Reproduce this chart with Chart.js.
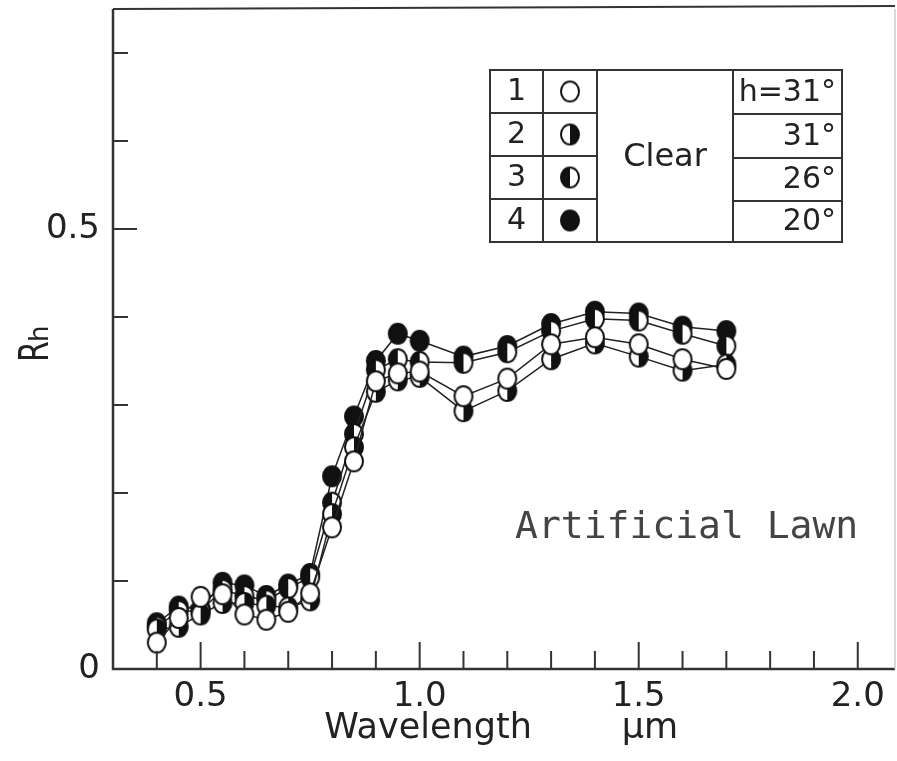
<!DOCTYPE html>
<html>
<head>
<meta charset="utf-8">
<title>Artificial Lawn - Rh</title>
<script src="https://cdn.jsdelivr.net/npm/chart.js@4.4.1/dist/chart.umd.min.js"></script>
<style>
  html, body { margin: 0; padding: 0; background: #fff; overflow: hidden; }
  canvas { display: block; }
</style>
</head>
<body>
<canvas id="rh-chart" width="897" height="761"></canvas>
<script>
// wavelength (um) of each measurement
const wavelengths = [0.40, 0.45, 0.50, 0.55, 0.60, 0.65, 0.70, 0.75, 0.80, 0.85,
                     0.90, 0.95, 1.00, 1.10, 1.20, 1.30, 1.40, 1.50, 1.60, 1.70];

// Rh per run
const rhRun1 = [0.030, 0.058, 0.082, 0.085, 0.062, 0.056, 0.065, 0.086, 0.161, 0.236,
                0.327, 0.336, 0.338, 0.310, 0.330, 0.369, 0.377, 0.369, 0.352, 0.341];
const rhRun2 = [0.045, 0.048, 0.062, 0.075, 0.075, 0.072, 0.070, 0.078, 0.176, 0.252,
                0.315, 0.328, 0.332, 0.293, 0.316, 0.352, 0.370, 0.355, 0.339, 0.346];
const rhRun3 = [0.048, 0.066, 0.066, 0.090, 0.083, 0.078, 0.092, 0.104, 0.189, 0.267,
                0.340, 0.352, 0.349, 0.348, 0.360, 0.384, 0.398, 0.396, 0.381, 0.367];
const rhRun4 = [0.052, 0.071, 0.068, 0.098, 0.095, 0.083, 0.096, 0.108, 0.219, 0.287,
                0.350, 0.381, 0.373, 0.355, 0.367, 0.392, 0.406, 0.404, 0.389, 0.384];

// legend table
const runNumbers = ['1', '2', '3', '4'];
const sunHeights = ['h=31°', '31°', '26°', '20°'];
const skyLabel = 'Clear';

// axes
const xLabelTicks = [0.5, 1.0, 1.5, 2.0];
const xMinorTicks = [0.4, 0.6, 0.7, 0.8, 0.9, 1.1, 1.2, 1.3, 1.4, 1.6, 1.7, 1.8, 1.9];
const yLabelTicks = [0, 0.5];
const yMinorTicks = [0.1, 0.2, 0.3, 0.4, 0.6, 0.7];

const INK = '#222';
const FONT = '"DejaVu Sans", sans-serif';

// circle markers: open, right half black, left half black, full black
function makeMarker(fill) {
  const c = document.createElement('canvas');
  c.width = 24; c.height = 26;
  const g = c.getContext('2d');
  const cx = 12, cy = 13, rx = 9, ry = 10;
  g.fillStyle = '#fff';
  g.beginPath(); g.ellipse(cx, cy, rx, ry, 0, 0, Math.PI * 2); g.fill();
  g.fillStyle = '#111';
  if (fill === 'full') {
    g.beginPath(); g.ellipse(cx, cy, rx, ry, 0, 0, Math.PI * 2); g.fill();
  } else if (fill === 'right') {
    g.beginPath(); g.ellipse(cx, cy, rx, ry, 0, -Math.PI / 2, Math.PI / 2); g.closePath(); g.fill();
  } else if (fill === 'left') {
    g.beginPath(); g.ellipse(cx, cy, rx, ry, 0, Math.PI / 2, Math.PI * 1.5); g.closePath(); g.fill();
  }
  g.strokeStyle = '#111';
  g.lineWidth = 2;
  g.beginPath(); g.ellipse(cx, cy, rx, ry, 0, 0, Math.PI * 2); g.stroke();
  return c;
}

const markers = [makeMarker('none'), makeMarker('right'), makeMarker('left'), makeMarker('full')];

function series(values, i) {
  return {
    label: runNumbers[i],
    data: wavelengths.map((w, k) => ({ x: w, y: values[k] })),
    borderColor: INK,
    borderWidth: 1.5,
    tension: 0,
    pointStyle: markers[i],
    pointRadius: 10,
    clip: false
  };
}

// frame, inward ticks, titles, table and caption
const decorations = {
  id: 'decorations',
  afterDraw(chart) {
    const { ctx, chartArea: a, scales: { x, y } } = chart;
    ctx.save();

    // frame
    ctx.strokeStyle = '#333';
    ctx.lineWidth = 2.5;
    ctx.beginPath();
    ctx.moveTo(a.left, a.top); ctx.lineTo(a.left, a.bottom); ctx.lineTo(a.right, a.bottom);
    ctx.stroke();
    ctx.lineWidth = 2;
    ctx.beginPath(); ctx.moveTo(a.left, a.top); ctx.lineTo(a.right, a.top - 3); ctx.stroke();
    ctx.strokeStyle = '#ccc';
    ctx.lineWidth = 1.5;
    ctx.beginPath(); ctx.moveTo(a.right, a.top); ctx.lineTo(a.right, a.bottom); ctx.stroke();

    // tick marks pointing into the plot
    ctx.strokeStyle = '#333';
    ctx.lineWidth = 2;
    xMinorTicks.forEach(v => {
      const px = x.getPixelForValue(v);
      ctx.beginPath(); ctx.moveTo(px, a.bottom); ctx.lineTo(px, a.bottom - 18); ctx.stroke();
    });
    xLabelTicks.forEach(v => {
      const px = x.getPixelForValue(v);
      ctx.beginPath(); ctx.moveTo(px, a.bottom); ctx.lineTo(px, a.bottom - 27); ctx.stroke();
    });
    yMinorTicks.forEach(v => {
      const py = y.getPixelForValue(v);
      ctx.beginPath(); ctx.moveTo(a.left, py); ctx.lineTo(a.left + 15, py); ctx.stroke();
    });
    yLabelTicks.filter(v => v > 0).forEach(v => {
      const py = y.getPixelForValue(v);
      ctx.beginPath(); ctx.moveTo(a.left, py); ctx.lineTo(a.left + 24, py); ctx.stroke();
    });

    // axis titles
    ctx.fillStyle = INK;
    ctx.font = '35px ' + FONT;
    ctx.textAlign = 'center';
    ctx.textBaseline = 'alphabetic';
    ctx.fillText('Wavelength', 428, 738);
    ctx.fillText('μm', 650, 738);

    ctx.save();
    ctx.translate(48, 362);
    ctx.rotate(-Math.PI / 2);
    ctx.textAlign = 'left';
    ctx.save();
    ctx.scale(0.75, 1);
    ctx.font = '40px ' + FONT;
    ctx.fillText('R', 0, 0);
    ctx.restore();
    ctx.font = '26px ' + FONT;
    ctx.fillText('h', 20, 0);
    ctx.restore();

    // caption
    ctx.fillStyle = '#444';
    ctx.font = '38px "DejaVu Sans Mono", monospace';
    ctx.textAlign = 'left';
    ctx.fillText('Artificial Lawn', 515, 538);

    // legend table
    const L = 490, R = 842, T = 70, B = 242;
    const c1 = 543, c2 = 597, c3 = 733;
    const rowsLeft = [113, 156, 199];
    const rowsRight = [114, 158, 201];
    ctx.strokeStyle = '#333';
    ctx.lineWidth = 2;
    ctx.strokeRect(L, T, R - L, B - T);
    [c1, c2, c3].forEach(cx => { ctx.beginPath(); ctx.moveTo(cx, T); ctx.lineTo(cx, B); ctx.stroke(); });
    rowsLeft.forEach(ry => { ctx.beginPath(); ctx.moveTo(L, ry); ctx.lineTo(c2, ry); ctx.stroke(); });
    rowsRight.forEach(ry => { ctx.beginPath(); ctx.moveTo(c3, ry); ctx.lineTo(R, ry); ctx.stroke(); });

    const leftEdges = [T].concat(rowsLeft, [B]);
    const rightEdges = [T].concat(rowsRight, [B]);
    ctx.fillStyle = INK;
    ctx.textBaseline = 'middle';
    runNumbers.forEach((n, i) => {
      const cy = (leftEdges[i] + leftEdges[i + 1]) / 2;
      ctx.font = '30px ' + FONT;
      ctx.textAlign = 'center';
      ctx.fillText(n, (L + c1) / 2, cy + 1);
      ctx.drawImage(markers[i], (c1 + c2) / 2 - 12, cy - 13);
    });
    sunHeights.forEach((s, i) => {
      const cy = (rightEdges[i] + rightEdges[i + 1]) / 2;
      ctx.font = '30px ' + FONT;
      ctx.textAlign = 'right';
      ctx.fillText(s, R - 6, cy + 1);
    });
    ctx.font = '32px ' + FONT;
    ctx.textAlign = 'center';
    ctx.fillText(skyLabel, (c2 + c3) / 2, (T + B) / 2 + 2);

    ctx.restore();
  }
};

const tickFont = { family: '"DejaVu Sans", sans-serif', size: 34 };

new Chart(document.getElementById('rh-chart').getContext('2d'), {
  type: 'line',
  data: {
    datasets: [series(rhRun1, 0), series(rhRun2, 1), series(rhRun3, 2), series(rhRun4, 3)]
  },
  options: {
    responsive: false,
    animation: false,
    layout: { autoPadding: false, padding: { top: 9, right: 2, left: 0, bottom: 0 } },
    plugins: { legend: { display: false }, tooltip: { enabled: false } },
    scales: {
      x: {
        type: 'linear',
        min: 0.3,
        max: 2.085,
        grid: { display: false, drawTicks: false },
        border: { display: false },
        ticks: {
          font: tickFont,
          color: INK,
          padding: 8,
          maxRotation: 0,
          autoSkip: false,
          callback: v => v.toFixed(1)
        },
        afterBuildTicks: s => { s.ticks = xLabelTicks.map(v => ({ value: v })); },
        afterFit: s => {
          s.height = 92;
          s.paddingLeft = 0; s.paddingRight = 0;
        }
      },
      y: {
        min: 0,
        max: 0.75,
        grid: { display: false, drawTicks: false },
        border: { display: false },
        ticks: {
          font: tickFont,
          color: INK,
          padding: 13,
          autoSkip: false,
          callback: v => (v === 0 ? '0' : v.toFixed(1))
        },
        afterBuildTicks: s => { s.ticks = yLabelTicks.map(v => ({ value: v })); },
        afterFit: s => {
          s.width = 113;
          s.paddingTop = 0; s.paddingBottom = 0;
        }
      }
    }
  },
  plugins: [decorations]
});
</script>
</body>
</html>
